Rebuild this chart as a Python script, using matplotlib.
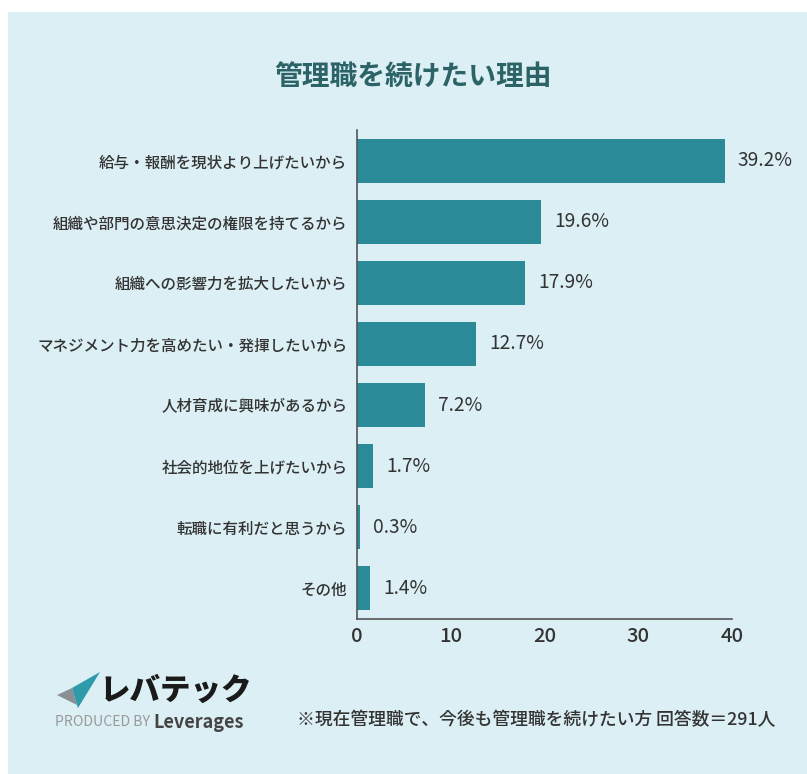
import matplotlib
matplotlib.use("Agg")
import matplotlib.pyplot as plt
from matplotlib.patches import Rectangle, Polygon

plt.rcParams['font.family'] = ['Noto Sans CJK JP', 'DejaVu Sans']

categories = ["給与・報酬を現状より上げたいから",
              "組織や部門の意思決定の権限を持てるから",
              "組織への影響力を拡大したいから",
              "マネジメント力を高めたい・発揮したいから",
              "人材育成に興味があるから",
              "社会的地位を上げたいから",
              "転職に有利だと思うから",
              "その他"]
values = [39.2, 19.6, 17.9, 12.7, 7.2, 1.7, 0.3, 1.4]
xticks = [0, 10, 20, 30, 40]

BG = "#dbeff4"
BAR = "#2a8a98"
TEXT = "#333333"

fig = plt.figure(figsize=(8.07, 7.74), dpi=100)
fig.patch.set_facecolor("white")
fig.patches.append(Rectangle((8 / 807, 0), 1, 1 - 12 / 774, transform=fig.transFigure,
                             facecolor=BG, edgecolor="none", zorder=-10))

ax = fig.add_axes([357 / 807, 1 - 619 / 774, 375 / 807, 489 / 774])
ax.set_facecolor("none")
y = range(len(categories))
ax.barh(y, values, height=0.72, color=BAR)
ax.set_ylim(7.5, -0.5)
ax.set_xlim(0, 40)
ax.set_xticks(xticks)
ax.set_xticklabels([str(t) for t in xticks], fontsize=14.5, color=TEXT, fontweight="medium")
ax.set_yticks(list(y))
ax.set_yticklabels(categories, fontsize=11.2, color=TEXT, fontweight="medium")
ax.tick_params(axis="both", length=0)
ax.tick_params(axis="x", pad=6)
ax.tick_params(axis="y", pad=7)
for s in ["top", "right"]:
    ax.spines[s].set_visible(False)
for s in ["left", "bottom"]:
    ax.spines[s].set_color("#555555")
    ax.spines[s].set_linewidth(1.2)
for i, v in enumerate(values):
    ax.text(v + 1.4, i, f"{v:.1f}%", va="center", ha="left", fontsize=13.8, color=TEXT)

fig.text(413 / 807, 1 - 77 / 774, "管理職を続けたい理由", ha="center", va="center",
         fontsize=20, fontweight="bold", color="#2b6366")

# logo
fig.patches.append(Polygon([(57 / 807, 1 - 695 / 774), (72 / 807, 1 - 688 / 774),
                            (77 / 807, 1 - 705 / 774)], closed=True,
                           transform=fig.transFigure, facecolor="#8a8f93", edgecolor="none"))
fig.patches.append(Polygon([(72 / 807, 1 - 688 / 774), (100 / 807, 1 - 672 / 774),
                            (78 / 807, 1 - 708 / 774), (77 / 807, 1 - 705 / 774)], closed=True,
                           transform=fig.transFigure, facecolor="#2f9aaa", edgecolor="none"))
fig.text(100 / 807, 1 - 690 / 774, "レバテック", ha="left", va="center", fontsize=22,
         fontweight="heavy", color="#1a1a1a", style="italic")
fig.text(55 / 807, 1 - 722 / 774, "PRODUCED BY", ha="left", va="center", fontsize=10.2,
         color="#9a9a9a")
fig.text(153 / 807, 1 - 722 / 774, "Leverages", ha="left", va="center", fontsize=13,
         fontweight="bold", color="#444444")

fig.text(775 / 807, 1 - 720 / 774, "※現在管理職で、今後も管理職を続けたい方 回答数＝291人",
         ha="right", va="center", fontsize=12.8, color=TEXT, fontweight="medium")

fig.savefig("out.png", dpi=100)
